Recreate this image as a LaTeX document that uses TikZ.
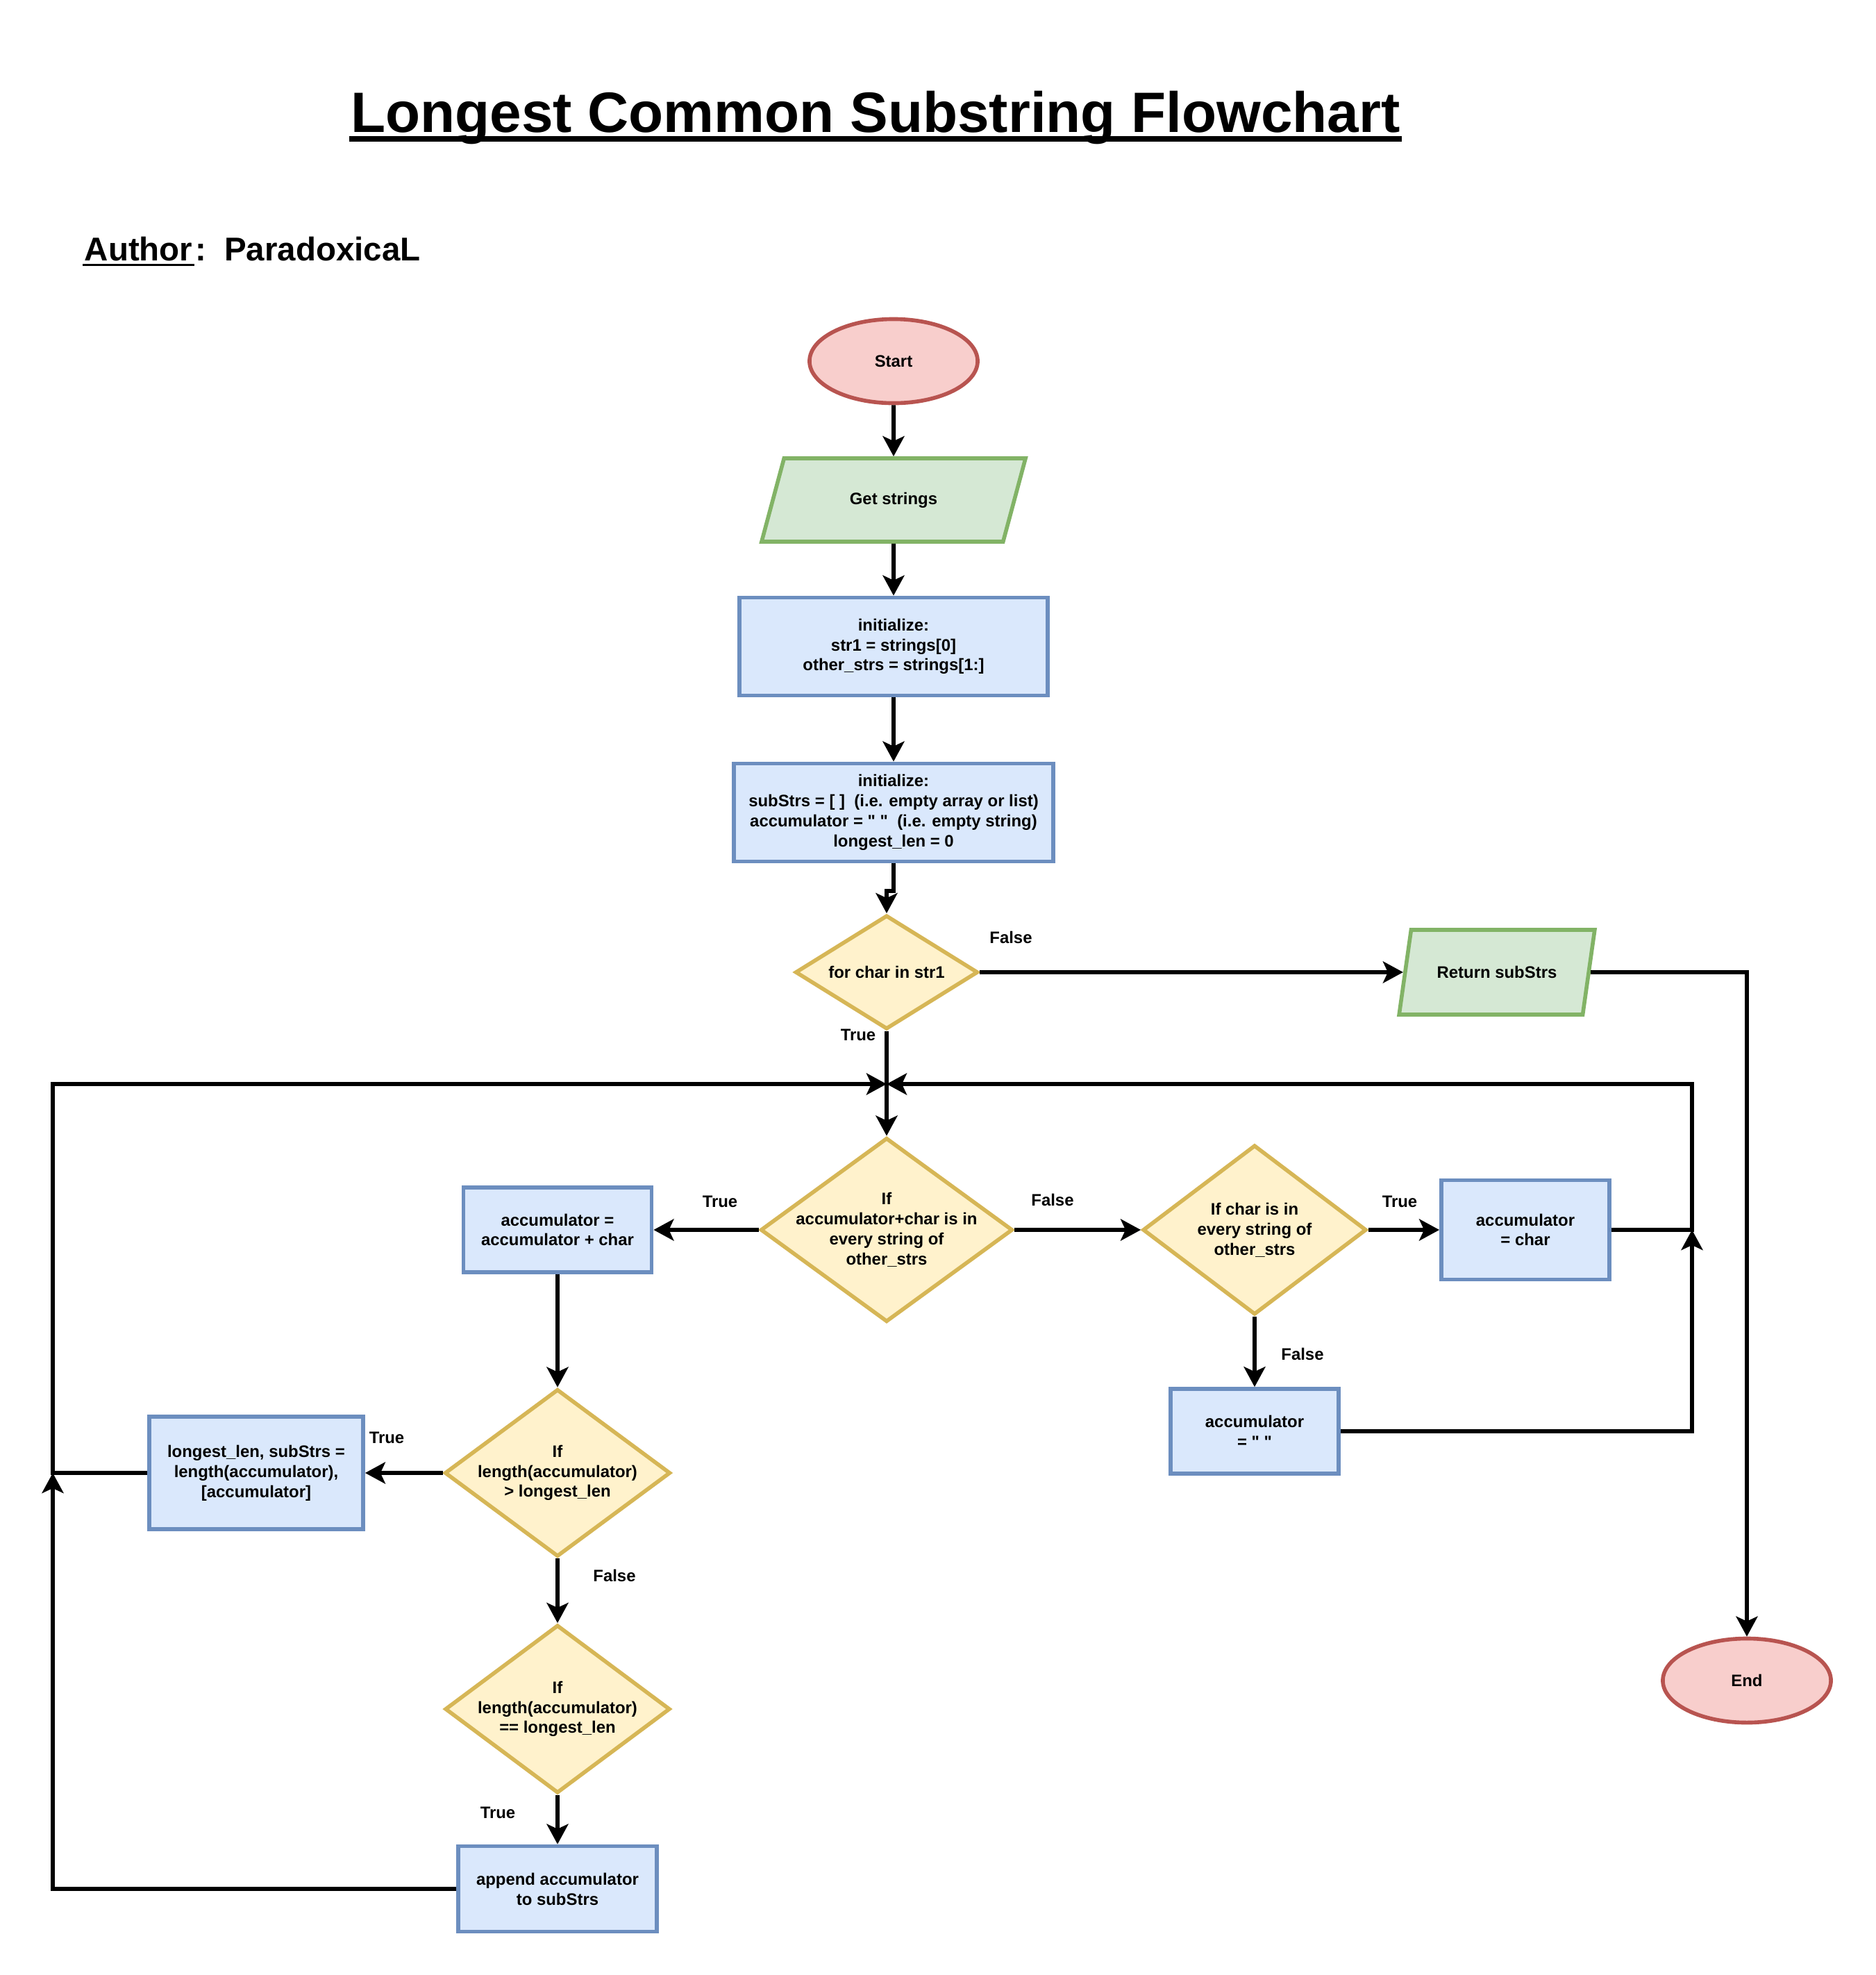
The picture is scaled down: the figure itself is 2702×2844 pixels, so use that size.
\documentclass[tikz,border=0pt]{standalone}
\usepackage{fontspec}
\setmainfont{Liberation Sans}
\newfontfamily\qfont{Liberation Sans}
\newcommand\quo{{\qfont\char34}}
\usetikzlibrary{shapes.geometric,arrows.meta}
\definecolor{redfill}{HTML}{F8CECC}
\definecolor{redline}{HTML}{B85450}
\definecolor{grnfill}{HTML}{D5E8D4}
\definecolor{grnline}{HTML}{82B366}
\definecolor{blufill}{HTML}{DAE8FC}
\definecolor{bluline}{HTML}{6C8EBF}
\definecolor{yelfill}{HTML}{FFF2CC}
\definecolor{yelline}{HTML}{D6B656}

\begin{document}
\begin{tikzpicture}[x=0.01cm,y=-0.01cm,line width=1.6pt,
    font=\bfseries\fontsize{6.8}{8.2}\selectfont,
    arr/.style={line width=1.7pt,-{Stealth[length=0.29cm,width=0.31cm,inset=0.07cm]}},
    term/.style={ellipse,draw=redline,fill=redfill,minimum width=2.42cm,minimum height=1.21cm},
    io/.style={trapezium,trapezium left angle=71.5,trapezium right angle=108.5,
        trapezium stretches=true,draw=grnline,fill=grnfill,minimum width=#1,minimum height=1.2cm},
    box/.style 2 args={rectangle,draw=bluline,fill=blufill,align=center,minimum width=#1,minimum height=#2},
    dia/.style 2 args={diamond,draw=yelline,fill=yelfill,inner sep=0pt,minimum width=#1,minimum height=#2},
    dtxt/.style={align=center},
    lbl/.style={inner sep=1pt}]
    \useasboundingbox (0,0) rectangle (2702,2844);
    % heading
    \node[font=\bfseries\fontsize{23.3}{28}\selectfont,inner sep=0pt,anchor=base] (title) at (1261,190) {Longest Common Substring Flowchart};
    \draw[line width=0.08cm] ([yshift=-0.1cm]title.base west) -- ([yshift=-0.1cm]title.base east);
    \node[font=\bfseries\fontsize{13.5}{16}\selectfont,inner sep=0pt,anchor=base west] (auth) at (119,375) {Author};
    \node[font=\bfseries\fontsize{13.5}{16}\selectfont,inner sep=0pt,anchor=base west] (who) at ([xshift=-0.02cm]auth.base east) {:\ \ ParadoxicaL};
    \draw[line width=0.035cm] ([yshift=-0.067cm]auth.base west) -- ([yshift=-0.067cm]auth.base east);
    % main column
    \node[term] (start) at (1287,520) {Start};
    \node[io=3.82cm] (gets) at (1287,720) {Get strings};
    \node[box={4.44cm}{1.41cm}] (init1) at (1287,931) {initialize:\\str1 = strings[0]\\other\_strs = strings[1:]};
    \node[box={4.6cm}{1.41cm}] (init2) at (1287,1170) {initialize:\\subStrs = [ ]~ (i.e. empty array or list)\\accumulator = \quo\ \quo~ (i.e. empty string)\\longest\_len = 0};
    \node[dia={2.63cm}{1.64cm},label={[dtxt]center:for char in str1}] (forc) at (1277,1400) {};
    \node[io=2.82cm,minimum height=1.22cm] (ret) at (2156,1400) {Return subStrs};
    \node[term] (end) at (2516,2420) {End};
    \coordinate (jn) at (1277,1561);
    \node[dia={3.63cm}{2.65cm},label={[dtxt]center:If\\accumulator+char is in\\every string of\\other\_strs}] (acc) at (1277,1771) {};
    % left branch
    \node[box={2.71cm}{1.22cm}] (accb) at (803,1771) {accumulator =\\accumulator + char};
    \node[dia={3.25cm}{2.41cm},label={[dtxt]center:If\\length(accumulator)\\> longest\_len}] (gt) at (803,2121) {};
    \node[box={3.08cm}{1.62cm}] (big) at (369,2121) {longest\_len, subStrs =\\length(accumulator),\\{[accumulator]}};
    \node[dia={3.24cm}{2.42cm},label={[dtxt]center:If\\length(accumulator)\\== longest\_len}] (eq) at (803,2461) {};
    \node[box={2.86cm}{1.23cm}] (app) at (803,2720) {append accumulator\\to subStrs};
    \coordinate (lp) at (76,2121);
    % right branch
    \node[dia={3.22cm}{2.44cm},label={[dtxt]center:If char is in\\every string of\\other\_strs}] (chk) at (1807,1771) {};
    \node[box={2.42cm}{1.43cm}] (chr) at (2197,1771) {accumulator\\= char};
    \node[box={2.42cm}{1.22cm}] (emp) at (1807,2061) {accumulator\\= \quo\ \quo};
    \coordinate (rp) at (2437,1771);
    % branch labels
    \node[lbl] (f1) at (1456,1350) {False};
    \node[lbl] (t1) at (1236,1490) {True};
    \node[lbl] (t2) at (1037,1730) {True};
    \node[lbl] (f2) at (1516,1728) {False};
    \node[lbl] (t3) at (2016,1730) {True};
    \node[lbl] (f3) at (1876,1950) {False};
    \node[lbl] (t4) at (557,2070) {True};
    \node[lbl] (f4) at (885,2269) {False};
    \node[lbl] (t5) at (717,2610) {True};
    % connectors
    \draw[arr] (start.south) -- (gets.north);
    \draw[arr] (gets.south) -- (init1.north);
    \draw[arr] (init1.south) -- (init2.north);
    \draw[arr] (init2.south) -- ++(0,40) -| (forc.north);
    \draw[arr] (forc.east) -- (ret.left side);
    \draw[arr] (ret.right side) -| (end.north);
    \draw[arr] (forc.south) -- (acc.north);
    \draw[arr] (acc.west) -- (accb.east);
    \draw[arr] (acc.east) -- (chk.west);
    \draw[arr] (chk.east) -- (chr.west);
    \draw[arr] (chk.south) -- (emp.north);
    \draw[arr] (accb.south) -- (gt.north);
    \draw[arr] (gt.west) -- (big.east);
    \draw[arr] (gt.south) -- (eq.north);
    \draw[arr] (eq.south) -- (app.north);
    \draw[arr] (big.west) -- (lp) |- (jn);
    \draw[arr] (app.west) -| (lp);
    \draw[arr] (chr.east) -- (rp) |- (jn);
    \draw[arr] (emp.east) -| (rp);
\end{tikzpicture}
\end{document}
